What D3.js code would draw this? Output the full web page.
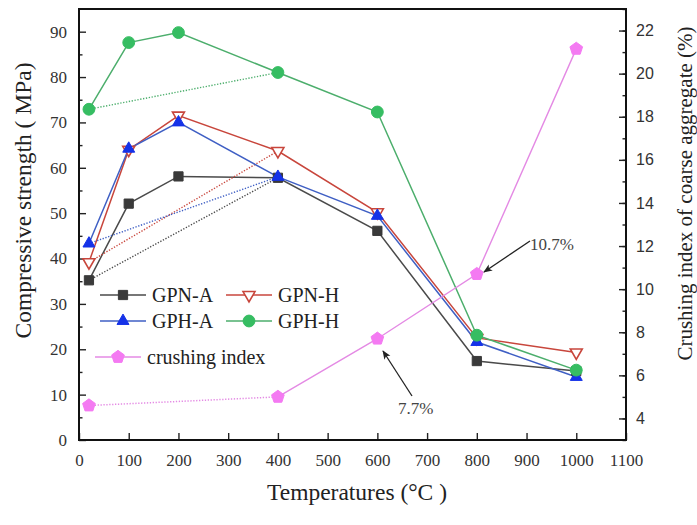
<!DOCTYPE html>
<html>
<head>
<meta charset="utf-8">
<script src="https://cdn.jsdelivr.net/npm/d3@7"></script>
<style>
  html, body { margin: 0; padding: 0; background: #fff; }
  #chart { width: 697px; height: 525px; }
</style>
</head>
<body>
<div id="chart"></div>
<script>
(() => {
  "use strict";

  // ---- data ----
  const temps = [20, 100, 200, 400, 600, 800, 1000];
  const gpnA = [35.2, 52.1, 58.1, 57.8, 46.1, 17.4, 15.2];
  const gpnH = [39.2, 64.0, 71.5, 63.7, 50.2, 22.5, 19.3];
  const gphA = [43.3, 64.2, 70.0, 58.0, 49.4, 21.6, 13.9];
  const gphH = [72.9, 87.6, 89.8, 81.0, 72.3, 23.1, 15.4];
  const crushTemps = [20, 400, 600, 800, 1000];
  const crushIdx = [4.6, 5.0, 7.7, 10.7, 21.15];

  const xTicks = d3.range(0, 1101, 100);
  const yLeftTicks = d3.range(0, 91, 10);
  const yRightTicks = d3.range(4, 23, 2);

  const SERIF = '"Liberation Serif", "DejaVu Serif", "Times New Roman", serif';
  const SANS = '"Liberation Sans", Arial, sans-serif';

  const W = 697, H = 525;
  const margin = {top: 9, right: 71, bottom: 85, left: 79};
  const innerW = W - margin.left - margin.right;
  const innerH = H - margin.top - margin.bottom;

  const x = d3.scaleLinear().domain([0, 1100]).range([0, innerW]);
  const yL = d3.scaleLinear().domain([0, 95]).range([innerH, 0]);
  const yR = d3.scaleLinear().domain([3, 23]).range([innerH, 0]);

  // pentagon symbol for the crushing index
  const symbolPentagon = {
    draw(ctx, size) {
      const r = Math.sqrt(size / 2.378);
      for (let i = 0; i < 5; i++) {
        const a = -Math.PI / 2 + i * 2 * Math.PI / 5;
        const px = r * Math.cos(a), py = r * Math.sin(a);
        if (i === 0) ctx.moveTo(px, py); else ctx.lineTo(px, py);
      }
      ctx.closePath();
    }
  };
  const symbolTriDown = {
    draw(ctx, size) {
      const s = Math.sqrt(size / 0.433);
      const h = s * Math.sqrt(3) / 2;
      ctx.moveTo(-s / 2, -h / 3);
      ctx.lineTo(s / 2, -h / 3);
      ctx.lineTo(0, 2 * h / 3);
      ctx.closePath();
    }
  };
  const symbolTriUp = {
    draw(ctx, size) {
      const s = Math.sqrt(size / 0.433);
      const h = s * Math.sqrt(3) / 2;
      ctx.moveTo(-s / 2, h / 3);
      ctx.lineTo(s / 2, h / 3);
      ctx.lineTo(0, -2 * h / 3);
      ctx.closePath();
    }
  };

  const series = [
    {name: "GPN-A", values: gpnA, line: "#4a4a4a", fill: "#3a3a3a", stroke: "#3a3a3a", sym: d3.symbolSquare, size: 85},
    {name: "GPN-H", values: gpnH, line: "#c8463c", fill: "#fff", stroke: "#c8463c", sym: symbolTriDown, size: 62, sw: 1.6},
    {name: "GPH-A", values: gphA, line: "#3f5fc4", fill: "#1532e8", stroke: "#1532e8", sym: symbolTriUp, size: 62},
    {name: "GPH-H", values: gphH, line: "#4cae6c", fill: "#36bd62", stroke: "#36bd62", sym: d3.symbolCircle, size: 110}
  ];
  const crush = {name: "crushing index", line: "#e48ae4", fill: "#f47af2", stroke: "#f47af2", sym: symbolPentagon, size: 105};

  const svg = d3.select("#chart").append("svg").attr("width", W).attr("height", H);
  const defs = svg.append("defs");
  defs.append("marker").attr("id", "arrow")
    .attr("viewBox", "0 0 10 10").attr("refX", 9).attr("refY", 5)
    .attr("markerWidth", 9).attr("markerHeight", 9).attr("orient", "auto")
    .attr("markerUnits", "userSpaceOnUse")
    .append("path").attr("d", "M0,1 L10,5 L0,9 L2.5,5 Z").attr("fill", "#222");

  const g = svg.append("g").attr("transform", `translate(${margin.left},${margin.top})`);

  // ---- axes (ticks inward) ----
  const axisStyle = (sel) => {
    sel.select(".domain").remove();
    sel.selectAll(".tick line").attr("stroke", "#222").attr("stroke-width", 1.4);
  };
  const labelStyle = (family, size) => (sel) => {
    sel.attr("font-family", null).attr("font-size", null);
    sel.selectAll("text").style("font-family", family).style("font-size", size).attr("fill", "#333");
  };

  g.append("g").attr("transform", `translate(0,${innerH})`)
    .call(d3.axisBottom(x).tickValues(xTicks).tickSize(-7).tickPadding(14).tickFormat(d3.format("d")))
    .call(axisStyle)
    .call(labelStyle(SERIF, "17px"));

  g.append("g")
    .call(d3.axisLeft(yL).tickValues(d3.range(5, 95, 10)).tickSize(-3.5).tickFormat(""))
    .call(axisStyle);
  g.append("g")
    .call(d3.axisLeft(yL).tickValues(yLeftTicks).tickSize(-7).tickPadding(12).tickFormat(d3.format("d")))
    .call(axisStyle)
    .call(labelStyle(SERIF, "17px"));

  g.append("g").attr("transform", `translate(${innerW},0)`)
    .call(d3.axisRight(yR).tickValues(d3.range(3, 24, 1)).tickSize(-3.5).tickFormat(""))
    .call(axisStyle);
  g.append("g").attr("transform", `translate(${innerW},0)`)
    .call(d3.axisRight(yR).tickValues(yRightTicks).tickSize(-7).tickPadding(10).tickFormat(d3.format("d")))
    .call(axisStyle)
    .call(labelStyle(SANS, "16px"));

  g.append("rect").attr("width", innerW).attr("height", innerH)
    .attr("fill", "none").attr("stroke", "#111").attr("stroke-width", 2);

  // ---- axis titles ----
  const serifText = (sel, size) => sel.style("font-family", SERIF).style("font-size", size).attr("fill", "#222");
  svg.append("text")
    .attr("transform", `translate(31,${margin.top + innerH / 2 - 24}) rotate(-90)`)
    .attr("text-anchor", "middle").call(serifText, "23.5px")
    .text("Compressive strength ( MPa)");
  svg.append("text")
    .attr("transform", `translate(692,${margin.top + innerH / 2 - 31}) rotate(-90)`)
    .attr("text-anchor", "middle").call(serifText, "21px")
    .text("Crushing index of coarse aggregate (%)");
  svg.append("text")
    .attr("x", 357).attr("y", 500)
    .attr("text-anchor", "middle").call(serifText, "23.5px")
    .text("Temperatures (°C )");

  // ---- lines ----
  const plot = g.append("g");
  const lineL = d3.line().x(d => x(d[0])).y(d => yL(d[1]));
  const lineR = d3.line().x(d => x(d[0])).y(d => yR(d[1]));

  series.forEach(s => {
    const pts = temps.map((t, i) => [t, s.values[i]]);
    // dotted shortcut 20 -> 400
    plot.append("path")
      .attr("d", lineL([pts[0], pts[temps.indexOf(400)]]))
      .attr("fill", "none").attr("stroke", s.line).attr("stroke-width", 1.4)
      .attr("stroke-dasharray", "1.3,1.6");
    plot.append("path")
      .attr("d", lineL(pts))
      .attr("fill", "none").attr("stroke", s.line).attr("stroke-width", 1.5);
  });

  const cPts = crushTemps.map((t, i) => [t, crushIdx[i]]);
  plot.append("path").attr("d", lineR(cPts.slice(0, 2)))
    .attr("fill", "none").attr("stroke", crush.line).attr("stroke-width", 1.5)
    .attr("stroke-dasharray", "1.3,1.6");
  plot.append("path").attr("d", lineR(cPts.slice(1)))
    .attr("fill", "none").attr("stroke", crush.line).attr("stroke-width", 1.4);

  // ---- markers ----
  const drawMarker = (sel, s, cx, cy) => {
    sel.append("path")
      .attr("d", d3.symbol().type(s.sym).size(s.size)())
      .attr("transform", `translate(${cx},${cy})`)
      .attr("fill", s.fill).attr("stroke", s.stroke).attr("stroke-width", s.sw || 1);
  };
  series.forEach(s => {
    temps.forEach((t, i) => drawMarker(plot, s, x(t), yL(s.values[i])));
  });
  cPts.forEach(p => drawMarker(plot, crush, x(p[0]), yR(p[1])));

  // ---- annotations ----
  const annot = [
    {label: "10.7%", tx: 530, ty: 250, ax: 530, ay: 241, hx: 484, hy: 272},
    {label: "7.7%", tx: 398, ty: 414, ax: 412, ay: 396, hx: 383, hy: 351}
  ];
  annot.forEach(a => {
    svg.append("line").attr("x1", a.ax).attr("y1", a.ay).attr("x2", a.hx).attr("y2", a.hy)
      .attr("stroke", "#222").attr("stroke-width", 1.3).attr("marker-end", "url(#arrow)");
    svg.append("text").attr("x", a.tx).attr("y", a.ty)
      .call(serifText, "17px").attr("fill", "#444").text(a.label);
  });

  // ---- legend ----
  const legendItems = [
    {s: series[0], x: 100, y: 295},
    {s: series[1], x: 226, y: 295},
    {s: series[2], x: 100, y: 321},
    {s: series[3], x: 226, y: 321},
    {s: crush, x: 95, y: 357}
  ];
  const leg = svg.append("g");
  legendItems.forEach(it => {
    leg.append("line").attr("x1", it.x).attr("x2", it.x + 46).attr("y1", it.y).attr("y2", it.y)
      .attr("stroke", it.s.line).attr("stroke-width", 1.5);
    drawMarker(leg, it.s, it.x + 23, it.y);
    leg.append("text").attr("x", it.x + 52).attr("y", it.y + 7)
      .call(serifText, "20px").text(it.s.name);
  });
})();
</script>
</body>
</html>
